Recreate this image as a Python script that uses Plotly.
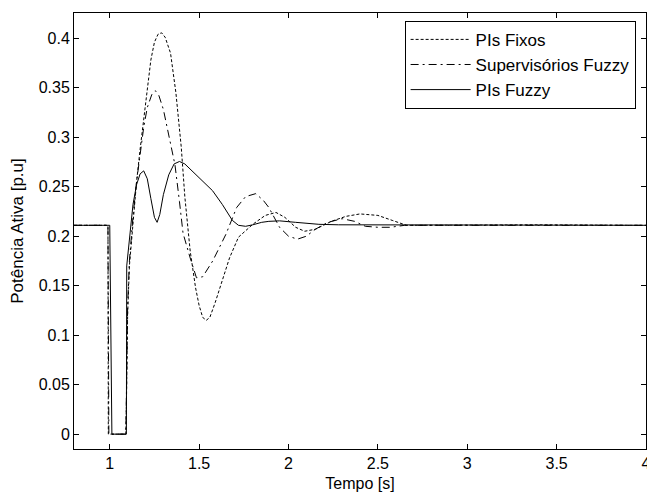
import plotly.graph_objects as go

# PIs Fixos (dotted)
t_fixos = [0.8, 0.99, 0.992, 1.09, 1.095, 1.10, 1.11, 1.13, 1.15, 1.17, 1.19, 1.21, 1.23, 1.25, 1.27,
           1.29, 1.31, 1.34, 1.37, 1.40, 1.42, 1.45, 1.48, 1.50, 1.52, 1.54, 1.56, 1.59, 1.62, 1.67,
           1.72, 1.80, 1.87, 1.93, 1.98, 2.04, 2.09, 2.15, 2.24, 2.32, 2.40, 2.50, 2.58, 2.66, 3.4,
           3.8, 4.0]
v_fixos = [0.211, 0.211, 0.0, 0.0, 0.05, 0.12, 0.17, 0.215, 0.255, 0.288, 0.32, 0.35, 0.378, 0.396, 0.404,
           0.4055, 0.401, 0.385, 0.345, 0.29, 0.24, 0.185, 0.148, 0.13, 0.118, 0.115, 0.118, 0.133, 0.15, 0.178,
           0.199, 0.212, 0.221, 0.224, 0.219, 0.209, 0.205, 0.207, 0.215, 0.220, 0.2225, 0.221, 0.216, 0.211, 0.2115,
           0.2115, 0.211]

# Supervisórios Fuzzy (dash-dot)
t_sup = [0.8, 0.99, 0.995, 1.09, 1.095, 1.10, 1.11, 1.13, 1.15, 1.17, 1.19, 1.21, 1.235, 1.255, 1.275,
         1.30, 1.33, 1.365, 1.39, 1.41, 1.45, 1.485, 1.52, 1.576, 1.65, 1.71, 1.76, 1.817, 1.86, 1.89,
         1.95, 2.0, 2.05, 2.10, 2.15, 2.22, 2.30, 2.37, 2.43, 2.50, 2.57, 2.65, 4.0]
v_sup = [0.211, 0.211, 0.0, 0.0, 0.06, 0.13, 0.175, 0.22, 0.255, 0.285, 0.31, 0.33, 0.343, 0.347, 0.342,
         0.328, 0.303, 0.272, 0.235, 0.203, 0.178, 0.158, 0.159, 0.175, 0.202, 0.229, 0.240, 0.243, 0.236, 0.229,
         0.209, 0.200, 0.197, 0.200, 0.207, 0.214, 0.2177, 0.215, 0.210, 0.209, 0.209, 0.211, 0.211]

# PIs Fuzzy (solid)
t_fuzzy = [0.8, 1.0, 1.012, 1.093, 1.095, 1.11, 1.13, 1.15, 1.17, 1.19, 1.21, 1.23, 1.25, 1.265, 1.28,
           1.30, 1.33, 1.36, 1.39, 1.42, 1.46, 1.50, 1.575, 1.63, 1.686, 1.72, 1.76, 1.80, 1.85, 1.89,
           1.95, 2.04, 2.17, 2.28, 4.0]
v_fuzzy = [0.211, 0.211, 0.0, 0.0, 0.17, 0.20, 0.232, 0.252, 0.263, 0.266, 0.258, 0.238, 0.219, 0.214, 0.222,
           0.242, 0.262, 0.273, 0.2755, 0.273, 0.266, 0.259, 0.246, 0.232, 0.216, 0.211, 0.210, 0.2115, 0.214, 0.215,
           0.2155, 0.214, 0.212, 0.2115, 0.211]

series_names = ["PIs Fixos", "Supervisórios Fuzzy", "PIs Fuzzy"]
x_ticks = [1, 1.5, 2, 2.5, 3, 3.5, 4]
x_tick_labels = ["1", "1.5", "2", "2.5", "3", "3.5", "4"]
y_ticks = [0, 0.05, 0.1, 0.15, 0.2, 0.25, 0.3, 0.35, 0.4]
y_tick_labels = ["0", "0.05", "0.1", "0.15", "0.2", "0.25", "0.3", "0.35", "0.4"]

FONT = "Liberation Sans, Arial, Helvetica, sans-serif"

fig = go.Figure()
fig.add_trace(go.Scatter(x=t_fixos, y=v_fixos, mode="lines", name=series_names[0],
                         line=dict(color="black", width=1, dash="3px,2px")))
fig.add_trace(go.Scatter(x=t_sup, y=v_sup, mode="lines", name=series_names[1],
                         line=dict(color="black", width=1, dash="8px,4px,2px,4px")))
fig.add_trace(go.Scatter(x=t_fuzzy, y=v_fuzzy, mode="lines", name=series_names[2],
                         line=dict(color="black", width=1)))

fig.update_layout(
    width=647, height=487,
    margin=dict(l=66, r=5, t=4, b=46),
    paper_bgcolor="white", plot_bgcolor="white",
    font=dict(family=FONT, size=16, color="black"),
    showlegend=True,
    legend=dict(x=0.578, y=0.982, xanchor="left", yanchor="top",
                bgcolor="white", bordercolor="black", borderwidth=1,
                font=dict(family=FONT, size=17, color="black"),
                itemwidth=60, tracegroupgap=4),
    xaxis=dict(range=[0.8, 4.0], tickvals=x_ticks, ticktext=x_tick_labels,
               ticks="inside", ticklen=5, tickcolor="black", tickwidth=1,
               showline=True, linecolor="black", linewidth=1, mirror="ticks",
               showgrid=False, zeroline=False,
               title=dict(text="Tempo [s]", standoff=6, font=dict(size=16)),
               tickfont=dict(size=16)),
    yaxis=dict(range=[-0.015, 0.4255], tickvals=y_ticks, ticktext=y_tick_labels,
               ticks="inside", ticklen=5, tickcolor="black", tickwidth=1,
               showline=True, linecolor="black", linewidth=1, mirror="ticks",
               showgrid=False, zeroline=False,
               title=dict(text="Potência Ativa [p.u]", standoff=10, font=dict(size=17)),
               tickfont=dict(size=16)),
)

fig.write_html("out.html")
